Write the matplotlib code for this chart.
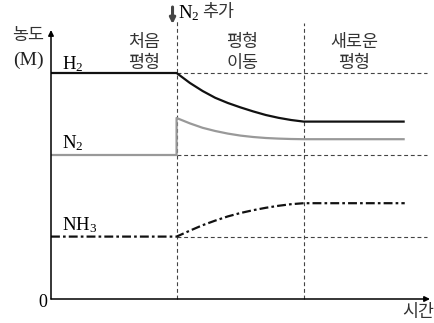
import numpy as np
import matplotlib
matplotlib.use("Agg")
import matplotlib.pyplot as plt

plt.rcParams['font.family'] = ['Noto Sans CJK KR', 'DejaVu Sans']
plt.rcParams['mathtext.fontset'] = 'custom'
plt.rcParams['mathtext.rm'] = 'Liberation Serif'
plt.rcParams['mathtext.it'] = 'Liberation Serif:italic'

# data (time units, concentration units)
t_add = 4.97      # N2 added
t_eq = 10.0       # new equilibrium reached

h2_t = [0, 4.97, 5.5, 6.0, 6.5, 7.0, 7.5, 8.0, 8.5, 9.0, 9.5, 10.0, 14.0]
h2_c = [11.3, 11.3, 10.8, 10.4, 10.06, 9.8, 9.58, 9.38, 9.2, 9.06, 8.95, 8.87, 8.87]

n2_t = [0, 4.97, 4.97, 5.5, 6.0, 6.5, 7.0, 7.5, 8.0, 8.5, 9.0, 9.5, 10.0, 14.0]
n2_c = [7.2, 7.2, 9.05, 8.78, 8.56, 8.4, 8.27, 8.17, 8.1, 8.05, 8.02, 8.0, 7.99, 7.99]

nh3_t = [0, 4.97, 5.5, 6.0, 6.5, 7.0, 7.5, 8.0, 8.5, 9.0, 9.5, 10.0, 14.0]
nh3_c = [3.12, 3.12, 3.42, 3.69, 3.92, 4.13, 4.3, 4.44, 4.56, 4.66, 4.74, 4.79, 4.79]

stage_top = ['처음', '평형', '새로운']
stage_bottom = ['평형', '이동', '평형']

fig = plt.figure(figsize=(4.34, 3.23), dpi=100)
ax = fig.add_axes([51/434, 24/323, 379/434, 269/323])
ax.set_xlim(0, 15)
ax.set_ylim(0, 13.45)
ax.axis('off')

# axes with arrows
arr = dict(arrowstyle='-|>', lw=1.1, color='k', mutation_scale=8, shrinkA=0, shrinkB=0)
ax.annotate('', xy=(1, 0), xytext=(0, 0), xycoords='axes fraction', arrowprops=arr)
ax.annotate('', xy=(0, 1), xytext=(0, 0), xycoords='axes fraction', arrowprops=arr)

# guide lines
gl = dict(color='#444444', lw=0.8, dashes=(3.5, 2.5))
ax.plot([t_add, t_add], [0, 13.95], clip_on=False, **gl)
ax.plot([t_eq, t_eq], [0, 13.8], clip_on=False, **gl)
for c0 in (h2_c[0], n2_c[0], nh3_c[0]):
    ax.plot([t_add, 14.9], [c0, c0], **gl)

# concentration curves
ax.plot(h2_t, h2_c, color='#111111', lw=1.6, solid_capstyle='butt', solid_joinstyle='round')
ax.plot(n2_t, n2_c, color='#999999', lw=1.6, solid_capstyle='butt', solid_joinstyle='round')
ax.plot(nh3_t, nh3_c, color='#111111', lw=1.6, dashes=(4, 1.4, 1.2, 1.4))

# labels
kr = dict(fontsize=12.5, color='#333333')
ax.text(-0.91, 13.2, '농도', ha='center', va='center', **kr)
ax.text(-0.91, 11.95, '(M)', ha='center', va='center', fontsize=14,
        family='Liberation Serif', color='#222222')
ax.text(0.44, 11.5, r'$\mathrm{H_2}$', ha='left', va='baseline', fontsize=13.5)
ax.text(0.44, 7.55, r'$\mathrm{N_2}$', ha='left', va='baseline', fontsize=13.5)
ax.text(0.44, 3.45, r'$\mathrm{NH_3}$', ha='left', va='baseline', fontsize=13.5)
ax.text(-0.16, -0.18, '0', ha='right', va='center', fontsize=13,
        family='Liberation Serif')
ax.text(14.52, -0.65, '시간', ha='center', va='center', **kr)

for x, top, bot in zip([3.67, 7.56, 11.99], stage_top, stage_bottom):
    ax.text(x, 12.85, top, ha='center', va='center', **kr)
    ax.text(x, 11.8, bot, ha='center', va='center', **kr)

# N2 addition marker
ax.annotate('', xy=(4.81, 13.75), xytext=(4.81, 14.6),
            arrowprops=dict(arrowstyle='-|>', lw=2.2, color='#444444',
                            mutation_scale=8, shrinkA=0, shrinkB=0),
            annotation_clip=False)
ax.text(5.03, 14.3, r'$\mathrm{N_2}$', ha='left', va='center', fontsize=13.5)
ax.text(6.0, 14.33, '추가', ha='left', va='center', **kr)

fig.savefig('out.png', dpi=100)
